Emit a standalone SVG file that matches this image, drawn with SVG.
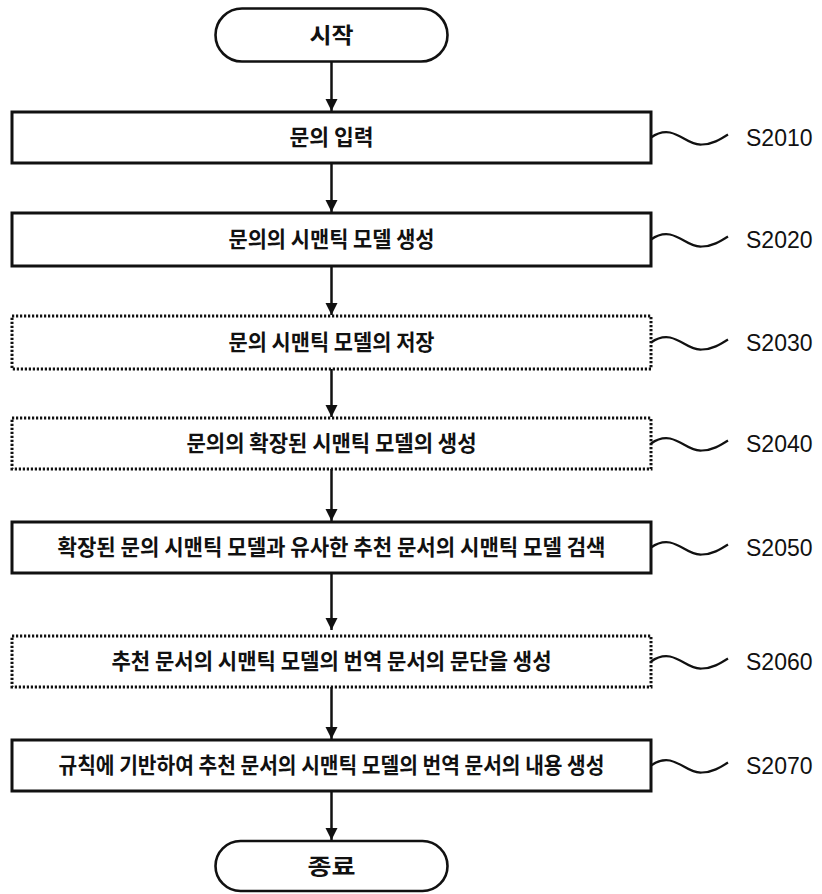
<svg xmlns="http://www.w3.org/2000/svg" xmlns:xlink="http://www.w3.org/1999/xlink" width="822" height="894" viewBox="0 0 822 894">
<style>
.bg{fill:#ffffff}
.solid{fill:#ffffff;stroke:#111;stroke-width:3}
.dot{fill:#ffffff;stroke:#111;stroke-width:3;stroke-dasharray:2.2 1.8}
.term{fill:#ffffff;stroke:#111;stroke-width:2.6}
.t{font-family:"Noto Sans CJK KR","Noto Sans",sans-serif;font-size:22px;font-weight:bold;fill:#111;text-anchor:middle}
.lab{font-family:"Liberation Sans",Arial,sans-serif;font-size:23px;fill:#111}
.wave{fill:none;stroke:#111;stroke-width:2.2}
.conn line{stroke:#111;stroke-width:2.5}
</style>
<defs>
<marker id="ah" viewBox="0 0 10 10" refX="10" refY="5" markerWidth="12" markerHeight="14" markerUnits="userSpaceOnUse" orient="auto">
<path d="M0,0 L10,5 L0,10 z" fill="#111"/>
</marker>
<path id="wv" class="wave" d="M651,0 C658,-5 664,-6 670,-5 C683,-2 690,8 702,7 C712,7 720,2 728,-3"/>
</defs>
<rect class="bg" x="0" y="0" width="822" height="894"/>

<g id="connectors" class="conn">
<line x1="331.5" y1="62" x2="331.5" y2="111" marker-end="url(#ah)"/>
<line x1="331.5" y1="163" x2="331.5" y2="212" marker-end="url(#ah)"/>
<line x1="331.5" y1="266" x2="331.5" y2="315" marker-end="url(#ah)"/>
<line x1="331.5" y1="369" x2="331.5" y2="417" marker-end="url(#ah)"/>
<line x1="331.5" y1="469" x2="331.5" y2="521" marker-end="url(#ah)"/>
<line x1="331.5" y1="573" x2="331.5" y2="630" marker-end="url(#ah)"/>
<line x1="331.5" y1="687" x2="331.5" y2="739" marker-end="url(#ah)"/>
<line x1="331.5" y1="791" x2="331.5" y2="840" marker-end="url(#ah)"/>
</g>

<g id="start">
<rect class="term" x="215.5" y="8.5" width="232" height="53" rx="26.5"/>
<text class="t" x="331.5" y="43" textLength="44" lengthAdjust="spacingAndGlyphs">시작</text>
</g>

<g id="s2010">
<rect class="solid" x="12" y="112" width="639" height="51"/>
<text class="t" x="331.5" y="145" textLength="84" lengthAdjust="spacingAndGlyphs">문의 입력</text>
<use xlink:href="#wv" transform="translate(0,137.5)"/>
<text class="lab" x="746" y="146">S2010</text>
</g>

<g id="s2020">
<rect class="solid" x="12" y="213" width="639" height="53"/>
<text class="t" x="331.5" y="247" textLength="206" lengthAdjust="spacingAndGlyphs">문의의 시맨틱 모델 생성</text>
<use xlink:href="#wv" transform="translate(0,239.5)"/>
<text class="lab" x="746" y="248">S2020</text>
</g>

<g id="s2030">
<rect class="dot" x="12" y="316" width="639" height="53"/>
<text class="t" x="331.5" y="350" textLength="206" lengthAdjust="spacingAndGlyphs">문의 시맨틱 모델의 저장</text>
<use xlink:href="#wv" transform="translate(0,342.5)"/>
<text class="lab" x="746" y="351">S2030</text>
</g>

<g id="s2040">
<rect class="dot" x="12" y="418" width="639" height="51"/>
<text class="t" x="331.5" y="451" textLength="290" lengthAdjust="spacingAndGlyphs">문의의 확장된 시맨틱 모델의 생성</text>
<use xlink:href="#wv" transform="translate(0,443.5)"/>
<text class="lab" x="746" y="452">S2040</text>
</g>

<g id="s2050">
<rect class="solid" x="12" y="522" width="639" height="51"/>
<text class="t" x="331.5" y="555" textLength="548" lengthAdjust="spacingAndGlyphs">확장된 문의 시맨틱 모델과 유사한 추천 문서의 시맨틱 모델 검색</text>
<use xlink:href="#wv" transform="translate(0,547.5)"/>
<text class="lab" x="746" y="556">S2050</text>
</g>

<g id="s2060">
<rect class="dot" x="12" y="636" width="639" height="51"/>
<text class="t" x="331.5" y="669" textLength="440" lengthAdjust="spacingAndGlyphs">추천 문서의 시맨틱 모델의 번역 문서의 문단을 생성</text>
<use xlink:href="#wv" transform="translate(0,661.5)"/>
<text class="lab" x="746" y="670">S2060</text>
</g>

<g id="s2070">
<rect class="solid" x="12" y="740" width="639" height="51"/>
<text class="t" x="331.5" y="773" textLength="546" lengthAdjust="spacingAndGlyphs">규칙에 기반하여 추천 문서의 시맨틱 모델의 번역 문서의 내용 생성</text>
<use xlink:href="#wv" transform="translate(0,765.5)"/>
<text class="lab" x="746" y="774">S2070</text>
</g>

<g id="end">
<rect class="term" x="215.5" y="841" width="232" height="50" rx="25"/>
<text class="t" x="331.5" y="873.5" textLength="48" lengthAdjust="spacingAndGlyphs">종료</text>
</g>
</svg>
